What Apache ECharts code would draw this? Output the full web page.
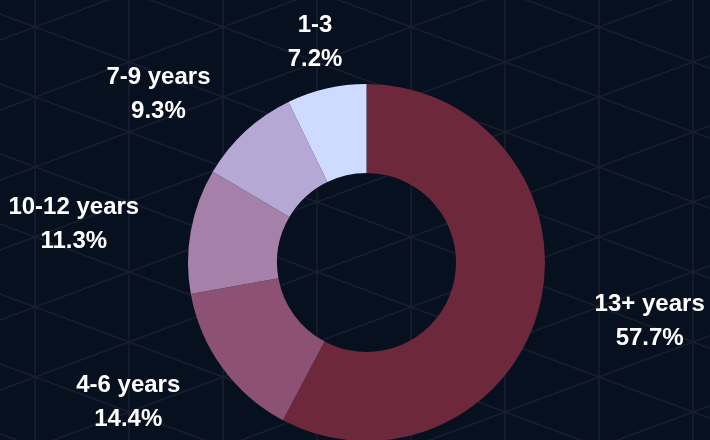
<!DOCTYPE html>
<html>
<head>
<meta charset="utf-8">
<script src="https://cdn.jsdelivr.net/npm/echarts@6/dist/echarts.min.js"></script>
<style>
  html, body { margin: 0; padding: 0; background: #07101f; }
  #chart {
    width: 710px; height: 440px;
    background-color: #07101f;
    background-image: url("data:image/svg+xml;utf8,<svg xmlns='http://www.w3.org/2000/svg' width='188' height='70'><g stroke='%23181d2f' stroke-width='1.5' fill='none'><line x1='47' y1='0' x2='47' y2='70'/><line x1='141' y1='0' x2='141' y2='70'/><line x1='0' y1='17.5' x2='188' y2='87.5'/><line x1='0' y1='-52.5' x2='188' y2='17.5'/><line x1='0' y1='52.5' x2='188' y2='-17.5'/><line x1='0' y1='122.5' x2='188' y2='52.5'/></g></svg>");
    background-size: 188px 70px;
    background-position: -12px -8px;
  }
</style>
</head>
<body>
<div id="chart"></div>
<script>
// Data
var categories = ['13+ years', '4-6 years', '10-12 years', '7-9 years', '1-3'];
var shares = [57.7, 14.4, 11.3, 9.3, 7.2];
var colors = ['#6d283b', '#8c5173', '#a580a9', '#b5a8d5', '#cedaff'];

var CX = 366.5, CY = 262.5;
var R_IN = 89.5, R_OUT = 178.5;
var LABEL_R = 233;

var total = shares.reduce(function (a, b) { return a + b; }, 0);
var cum = [];
(function () { var s = 0; for (var i = 0; i < shares.length; i++) { cum.push(s); s += shares[i]; } })();

var chart = echarts.init(document.getElementById('chart'), null, { renderer: 'canvas' });
chart.setOption({
  backgroundColor: 'transparent',
  animation: false,
  series: [{
    type: 'pie',
    center: [CX, CY],
    radius: [R_IN, R_OUT],
    startAngle: 90,
    clockwise: true,
    avoidLabelOverlap: false,
    itemStyle: { borderWidth: 0 },
    emphasis: { disabled: true },
    label: {
      show: true,
      position: 'outside',
      formatter: function (p) { return p.name + '\n' + shares[p.dataIndex].toFixed(1) + '%'; },
      color: '#ffffff',
      fontFamily: 'Liberation Sans, Arial, sans-serif',
      fontWeight: 'bold',
      fontSize: 24,
      lineHeight: 34
    },
    labelLine: { show: false },
    labelLayout: function (p) {
      var i = p.dataIndex;
      var frac = (cum[i] + shares[i] / 2) / total;
      var a = frac * 2 * Math.PI;
      var dx = Math.sin(a), dy = -Math.cos(a);
      var w = p.labelRect.width;
      var centered = Math.abs(dx) < 0.35;
      var r = centered ? LABEL_R - 4 : LABEL_R;
      var ax = CX + r * dx, ay = CY + r * dy;
      var x = ax;
      if (!centered) x = ax + (dx > 0 ? (w / 2 + 2) : -(w / 2 - 2));
      return { x: x, y: ay + 3, align: 'center', verticalAlign: 'middle' };
    },
    data: categories.map(function (c, i) {
      return { name: c, value: shares[i], itemStyle: { color: colors[i] } };
    })
  }]
});
</script>
</body>
</html>
